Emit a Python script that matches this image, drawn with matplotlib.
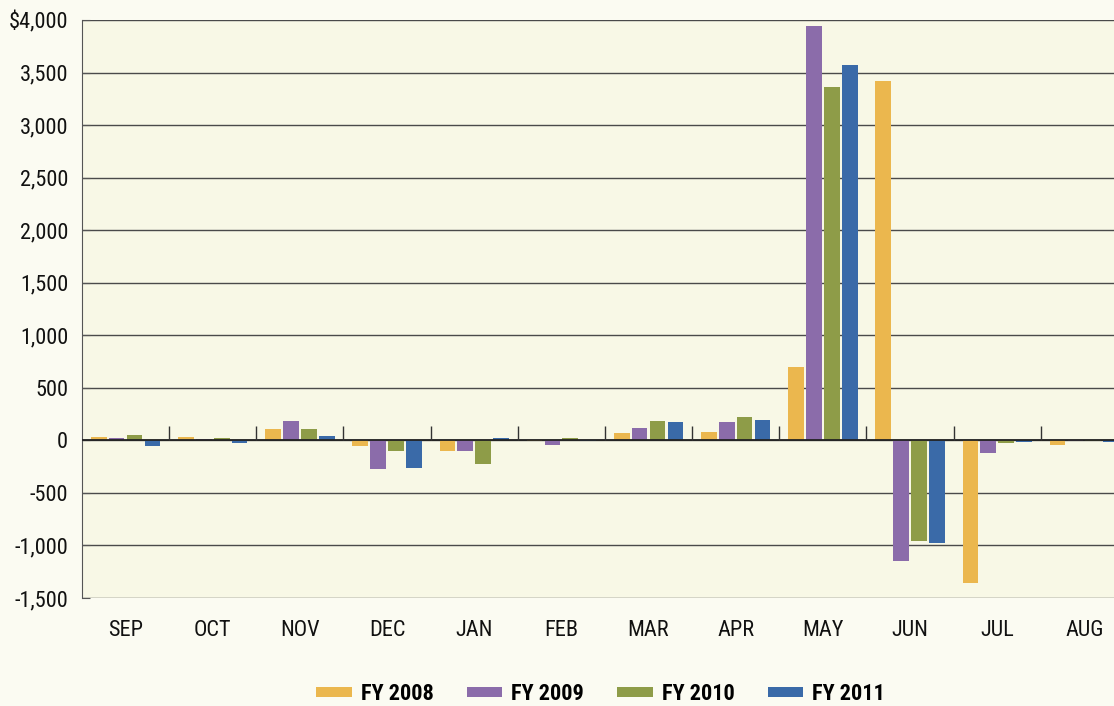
import matplotlib.pyplot as plt
import numpy as np
from matplotlib.ticker import FuncFormatter

months = ["SEP", "OCT", "NOV", "DEC", "JAN", "FEB", "MAR", "APR", "MAY", "JUN", "JUL", "AUG"]
fy2008 = [30, 30, 110, -50, -100, -10, 67, 80, 700, 3420, -1360, -45]
fy2009 = [25, 15, 180, -273, -100, -40, 117, 178, 3945, -1150, -124, -5]
fy2010 = [50, 25, 110, -100, -225, 25, 187, 220, 3365, -960, -25, -10]
fy2011 = [-50, -25, 40, -263, 20, -5, 175, 194, 3575, -978, -15, -20]

series = [("FY 2008", fy2008, "#EBB74E"),
          ("FY 2009", fy2009, "#8B6CAA"),
          ("FY 2010", fy2010, "#8E9C48"),
          ("FY 2011", fy2011, "#3A6AA8")]

plt.rcParams['font.family'] = ['Roboto Condensed', 'Liberation Sans Narrow', 'Roboto', 'DejaVu Sans']

fig = plt.figure(figsize=(11.14, 7.06), dpi=100, facecolor="#FBFBF2")
ax = fig.add_axes([0.0736, 0.153, 0.9264, 0.8187])
ax.set_facecolor("#F8F8E6")

x = np.arange(len(months))
width = 0.18
pitch = 0.205
for i, (label, vals, color) in enumerate(series):
    ax.bar(x + (i - 1.5) * pitch, vals, width, color=color, label=label, zorder=3)

ax.set_ylim(-1500, 4000)
ax.set_xlim(-0.5, 11.34)
ax.set_yticks(np.arange(-1500, 4001, 500))
ax.yaxis.set_major_formatter(FuncFormatter(lambda v, p: "${:,.0f}".format(v) if v == 4000 else "{:,.0f}".format(v)))
ax.grid(axis="y", color="#4a4a4a", linewidth=1, zorder=1)
ax.axhline(0, color="#222222", linewidth=1.3, zorder=4)
ax.vlines(x[:-1] + 0.5, 0, 140, color="#333333", linewidth=1, zorder=4)

ax.set_xticks(x)
ax.set_xticklabels(months)
ax.tick_params(axis="x", length=0, pad=16, labelsize=16, labelcolor="#111111")
ax.tick_params(axis="y", direction="in", length=6, labelsize=16, color="#555555", pad=10,
               labelcolor="#111111")
for s in ["top", "right", "bottom"]:
    ax.spines[s].set_visible(False)
ax.spines["left"].set_color("#555555")

leg = fig.legend(loc="lower center", bbox_to_anchor=(0.539, -0.027), ncol=4, frameon=False,
                 prop={"weight": "bold", "size": 16}, handlelength=1.6, handleheight=0.35,
                 columnspacing=1.5, handletextpad=0.4)

plt.savefig("out.png", dpi=100, facecolor=fig.get_facecolor())
